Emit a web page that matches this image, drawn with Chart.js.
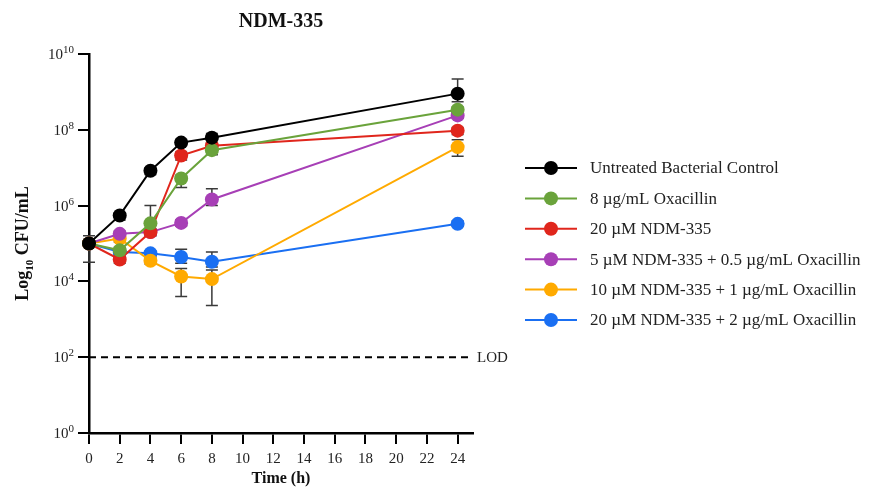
<!DOCTYPE html>
<html>
<head>
<meta charset="utf-8">
<script src="https://cdn.jsdelivr.net/npm/chart.js@4.4.1/dist/chart.umd.min.js"></script>
<style>
  html, body { margin:0; padding:0; background:#fff; }
  #wrap { width:869px; height:492px; position:relative; }
</style>
</head>
<body>
<div id="wrap"><canvas id="chart"></canvas></div>
<script>
// ====== data (CFU/mL) ======
const times = [0, 2, 4, 6, 8, 24];
const timeTicks = [0, 2, 4, 6, 8, 10, 12, 14, 16, 18, 20, 22, 24];
const yTicks = [1, 1e2, 1e4, 1e6, 1e8, 1e10];
const yTickExps = ["0", "2", "4", "6", "8", "10"];
const lodValue = 100;

const seriesNames = [
  "Untreated Bacterial Control",
  "8 \u00B5g/mL Oxacillin",
  "20 \u00B5M NDM-335",
  "5 \u00B5M NDM-335 + 0.5 \u00B5g/mL Oxacillin",
  "10 \u00B5M NDM-335 + 1 \u00B5g/mL Oxacillin",
  "20 \u00B5M NDM-335 + 2 \u00B5g/mL Oxacillin"
];
const seriesColors = ["#000000", "#6aa33b", "#e0261c", "#a73fb6", "#ffaa00", "#1a6ff2"];

const controlVals = [1.0e5, 5.5e5, 8.3e6, 4.6e7, 6.2e7, 9.0e8];
const controlHi   = [1.6e5, 6.5e5, 1.0e7, 5.6e7, 8.0e7, 2.2e9];
const controlLo   = [3.2e4, 4.2e5, 6.6e6, 3.8e7, 4.6e7, 5.5e8];

const oxaVals = [1.0e5, 6.6e4, 3.4e5, 5.2e6, 2.9e7, 3.4e8];
const oxaHi   = [1.2e5, 8.0e4, 1.0e6, 6.3e6, 3.4e7, 4.0e8];
const oxaLo   = [8.0e4, 5.4e4, 2.0e5, 3.0e6, 2.2e7, 2.8e8];

const ndmVals = [1.0e5, 3.8e4, 2.0e5, 2.1e7, 3.8e7, 9.5e7];
const ndmHi   = [1.2e5, 4.6e4, 2.4e5, 2.6e7, 4.4e7, 1.15e8];
const ndmLo   = [8.0e4, 3.0e4, 1.6e5, 1.6e7, 3.2e7, 7.5e7];

const combo5Vals = [1.0e5, 1.8e5, 2.0e5, 3.5e5, 1.45e6, 2.4e8];
const combo5Hi   = [1.2e5, 2.1e5, 2.4e5, 4.2e5, 2.8e6, 2.8e8];
const combo5Lo   = [8.0e4, 1.5e5, 1.6e5, 2.9e5, 1.0e6, 2.0e8];

const combo10Vals = [1.0e5, 1.35e5, 3.5e4, 1.35e4, 1.15e4, 3.5e7];
const combo10Hi   = [1.2e5, 1.6e5, 4.2e4, 2.2e4, 2.0e4, 5.5e7];
const combo10Lo   = [8.0e4, 1.1e5, 2.9e4, 4.0e3, 2.3e3, 2.0e7];

const combo20Vals = [1.0e5, 6.0e4, 5.5e4, 4.4e4, 3.3e4, 3.3e5];
const combo20Hi   = [1.2e5, 7.0e4, 6.3e4, 7.0e4, 6.0e4, 3.9e5];
const combo20Lo   = [8.0e4, 5.2e4, 4.7e4, 3.0e4, 2.4e4, 2.8e5];

const allVals = [controlVals, oxaVals, ndmVals, combo5Vals, combo10Vals, combo20Vals];
const allHi   = [controlHi, oxaHi, ndmHi, combo5Hi, combo10Hi, combo20Hi];
const allLo   = [controlLo, oxaLo, ndmLo, combo5Lo, combo10Lo, combo20Lo];

const SERIF = '"Liberation Serif", "DejaVu Serif", serif';
Chart.defaults.font.family = SERIF;
Chart.defaults.color = "#222";

const toPts = vals => times.map((t, i) => ({ x: t, y: vals[i] }));

const datasets = seriesNames.map((name, i) => ({
  label: name,
  data: toPts(allVals[i]),
  errHi: allHi[i],
  errLo: allLo[i],
  borderColor: seriesColors[i],
  backgroundColor: seriesColors[i],
  pointBackgroundColor: seriesColors[i],
  pointBorderColor: seriesColors[i],
  pointRadius: 7,
  pointBorderWidth: 0,
  borderWidth: 2,
  tension: 0,
  clip: false
}));

// LOD dashed line
datasets.push({
  label: "LOD",
  data: [{ x: 0, y: lodValue }, { x: 25, y: lodValue }],
  borderColor: "#000",
  borderWidth: 2,
  borderDash: [7, 5],
  pointRadius: 0,
  clip: false
});

// ====== plugins ======
const errorBars = {
  id: "errorBars",
  beforeDatasetsDraw(chart) {
    const { ctx, scales: { x, y } } = chart;
    ctx.save();
    ctx.strokeStyle = "#3a3a3a";
    ctx.lineWidth = 1.5;
    chart.data.datasets.forEach(ds => {
      if (!ds.errHi) return;
      ds.data.forEach((p, i) => {
        const px = x.getPixelForValue(p.x);
        const yh = y.getPixelForValue(ds.errHi[i]);
        const yl = y.getPixelForValue(ds.errLo[i]);
        ctx.beginPath();
        ctx.moveTo(px, yh); ctx.lineTo(px, yl);
        ctx.moveTo(px - 6, yh); ctx.lineTo(px + 6, yh);
        ctx.moveTo(px - 6, yl); ctx.lineTo(px + 6, yl);
        ctx.stroke();
      });
    });
    ctx.restore();
  }
};

// y tick labels with real superscripts + y title with subscript
const yLabels = {
  id: "yLabels",
  afterDraw(chart) {
    const { ctx, scales: { y } } = chart;
    ctx.save();
    ctx.fillStyle = "#222";
    ctx.textBaseline = "alphabetic";
    yTicks.forEach((v, i) => {
      const py = y.getPixelForValue(v);
      ctx.font = "11px " + SERIF;
      const ew = ctx.measureText(yTickExps[i]).width;
      const right = 74;
      ctx.textAlign = "left";
      ctx.fillText(yTickExps[i], right - ew, py - 1);
      ctx.font = "15px " + SERIF;
      ctx.textAlign = "right";
      ctx.fillText("10", right - ew, py + 5);
    });
    // title
    const parts = [["Log", "bold 18px "], ["10", "bold 11px "], [" CFU/mL", "bold 18px "]];
    let total = 0;
    parts.forEach(p => { ctx.font = p[1] + SERIF; total += ctx.measureText(p[0]).width; });
    const cy = (y.top + y.bottom) / 2;
    ctx.translate(28, cy);
    ctx.rotate(-Math.PI / 2);
    ctx.textAlign = "left";
    ctx.fillStyle = "#111";
    let cx = -total / 2;
    parts.forEach((p, k) => {
      ctx.font = p[1] + SERIF;
      ctx.fillText(p[0], cx, k === 1 ? 5 : 0);
      cx += ctx.measureText(p[0]).width;
    });
    ctx.restore();
  }
};

const sideLegend = {
  id: "sideLegend",
  afterDraw(chart) {
    const { ctx, scales: { x, y } } = chart;
    ctx.save();
    // LOD label
    ctx.font = "15px " + SERIF;
    ctx.fillStyle = "#222";
    ctx.textBaseline = "middle";
    ctx.textAlign = "left";
    ctx.fillText("LOD", x.getPixelForValue(25) + 4, y.getPixelForValue(lodValue) + 1);
    // legend
    const x0 = 525, x1 = 577, tx = 590, y0 = 168, step = 30.4;
    ctx.font = "17px " + SERIF;
    seriesNames.forEach((name, i) => {
      const yy = y0 + i * step;
      ctx.strokeStyle = seriesColors[i];
      ctx.lineWidth = 2;
      ctx.beginPath(); ctx.moveTo(x0, yy); ctx.lineTo(x1, yy); ctx.stroke();
      ctx.fillStyle = seriesColors[i];
      ctx.beginPath(); ctx.arc((x0 + x1) / 2, yy, 7, 0, Math.PI * 2); ctx.fill();
      ctx.fillStyle = "#222";
      ctx.fillText(name, tx, yy + 1);
    });
    ctx.restore();
  }
};

new Chart(document.getElementById("chart"), {
  type: "line",
  data: { datasets },
  options: {
    responsive: true,
    maintainAspectRatio: false,
    animation: false,
    layout: { padding: { left: 0, right: 396, top: 0, bottom: 0 } },
    plugins: {
      legend: { display: false },
      tooltip: { enabled: false },
      title: {
        display: true,
        text: "NDM-335",
        fullSize: false,
        color: "#111",
        font: { size: 20, weight: "bold", family: SERIF },
        padding: { top: 10, bottom: 20 }
      }
    },
    scales: {
      x: {
        type: "linear",
        min: 0, max: 25,
        afterBuildTicks: s => { s.ticks = timeTicks.map(v => ({ value: v })); },
        afterFit: s => { s.height = 59; },
        border: { display: true, color: "#000", width: 2.5 },
        grid: { display: true, drawOnChartArea: false, drawTicks: true, tickLength: 11, color: "#000", lineWidth: 2 },
        ticks: { font: { size: 15 }, color: "#222", padding: 6, maxRotation: 0 },
        title: { display: true, text: "Time (h)", color: "#111", font: { size: 16, weight: "bold" }, padding: { top: 3 } }
      },
      y: {
        type: "logarithmic",
        min: 1, max: 1e10,
        afterBuildTicks: s => { s.ticks = yTicks.map(v => ({ value: v })); },
        afterFit: s => { s.width = 89; },
        border: { display: true, color: "#000", width: 2.5 },
        grid: { display: true, drawOnChartArea: false, drawTicks: true, tickLength: 11, color: "#000", lineWidth: 2 },
        ticks: { display: false },
        title: { display: false }
      }
    }
  },
  plugins: [errorBars, yLabels, sideLegend]
});
</script>
</body>
</html>
